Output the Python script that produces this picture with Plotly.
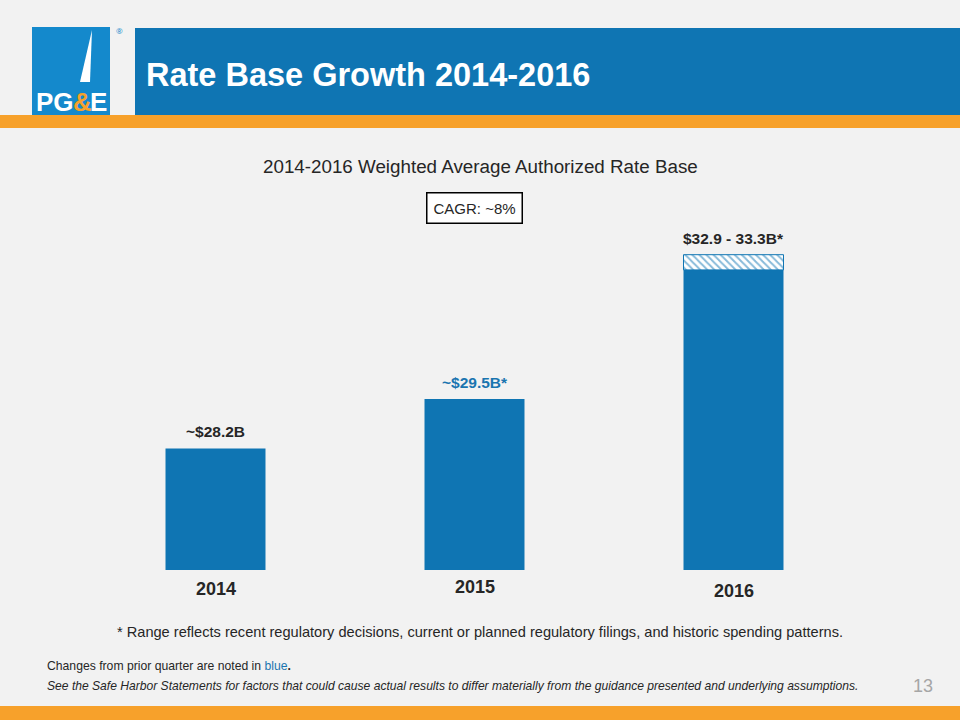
import plotly.graph_objects as go

years = ['2014', '2015', '2016']
rate_base = [28.2, 29.5, 32.9]
range_low = 32.9
range_high = 33.3
value_labels = ['~$28.2B', '~$29.5B*', '$32.9 - 33.3B*']
label_colors = ['#262626', '#1a75b0', '#262626']

BLUE = '#0f75b3'
ORANGE = '#f7a12b'
BG = '#f2f2f2'

def py(px):
    return 1 - px / 720

xs = [0, 1, 2]
fig = go.Figure()

# solid bars
fig.add_trace(go.Bar(x=xs, y=rate_base, width=0.386, marker=dict(color=BLUE, line=dict(width=0)),
                     hoverinfo='skip'))
# hatched range on top of 2016
fig.add_trace(go.Bar(x=[2], y=[range_high - range_low], base=[range_low], width=0.386,
                     marker=dict(color='white', line=dict(color=BLUE, width=1),
                                 pattern=dict(shape='\\', fgcolor=BLUE, bgcolor='white', size=5, solidity=0.4)),
                     hoverinfo='skip'))

tops = [rate_base[0], rate_base[1], range_high]
year_shift = [-7, -5, -9]
for i in range(3):
    fig.add_annotation(x=xs[i], y=tops[i], xref='x', yref='y', text='<b>%s</b>' % value_labels[i],
                       showarrow=False, yanchor='bottom', yshift=6,
                       font=dict(size=15.5, color=label_colors[i], family='Liberation Sans'))
    fig.add_annotation(x=xs[i], y=25, xref='x', yref='y', text='<b>%s</b>' % years[i],
                       showarrow=False, yanchor='top', yshift=year_shift[i],
                       font=dict(size=18, color='#262626', family='Liberation Sans'))

shapes = [
    # logo
    dict(type='rect', xref='paper', yref='paper', x0=32/960, x1=110/960, y0=py(115), y1=py(27),
         fillcolor='#1489cc', line=dict(width=0), layer='below'),
    dict(type='path', xref='paper', yref='paper',
         path='M %f %f L %f %f L %f %f Z' % (92/960, py(30), 80/960, py(82), 90/960, py(82)),
         fillcolor='white', line=dict(width=0)),
    # header band
    dict(type='rect', xref='paper', yref='paper', x0=135/960, x1=1, y0=py(115), y1=py(28),
         fillcolor=BLUE, line=dict(width=0), layer='below'),
    # orange stripes
    dict(type='rect', xref='paper', yref='paper', x0=0, x1=1, y0=py(128), y1=py(115),
         fillcolor=ORANGE, line=dict(width=0)),
    dict(type='rect', xref='paper', yref='paper', x0=0, x1=1, y0=0, y1=py(706),
         fillcolor=ORANGE, line=dict(width=0)),
]

txt = dict(xref='paper', yref='paper', showarrow=False)
logo_font = dict(size=26, color='white', family='Liberation Sans Narrow, Liberation Sans')
ann = [
    dict(x=144/960, y=py(75), text='<b>Rate Base Growth 2014-2016</b>', xanchor='left', yanchor='middle',
         font=dict(size=32.5, color='white', family='Liberation Sans')),
    dict(x=34/960, y=py(115), text='<b>PG</b>', xanchor='left', yanchor='bottom', yshift=-4, font=logo_font),
    dict(x=71/960, y=py(115), text='<b>&amp;</b>', xanchor='left', yanchor='bottom', yshift=-4,
         font=dict(logo_font, color=ORANGE)),
    dict(x=88/960, y=py(115), text='<b>E</b>', xanchor='left', yanchor='bottom', yshift=-4, font=logo_font),
    dict(x=114/960, y=py(31), text='®', yanchor='middle', font=dict(size=8, color='#1489cc')),
    dict(x=480/960, y=py(166), text='2014-2016 Weighted Average Authorized Rate Base', yanchor='middle',
         font=dict(size=18.8, color='#262626', family='Liberation Sans')),
    dict(x=474/960, y=py(208), text='CAGR: ~8%', bordercolor='#000000', borderwidth=1.5, yanchor='middle',
         borderpad=6, bgcolor='white', font=dict(size=15, color='#262626', family='Liberation Sans')),
    dict(x=480/960, y=py(632), text='* Range reflects recent regulatory decisions, current or planned regulatory filings, and historic spending patterns.',
         yanchor='middle', font=dict(size=14.6, color='#262626', family='Liberation Sans')),
    dict(x=45/960, y=py(666), xanchor='left', yanchor='middle',
         text='Changes from prior quarter are noted in <span style="color:#1a75b0">blue</span><b>.</b>',
         font=dict(size=12.2, color='#262626', family='Liberation Sans')),
    dict(x=45/960, y=py(686), xanchor='left', yanchor='middle',
         text='<i>See the Safe Harbor Statements for factors that could cause actual results to differ materially from the guidance presented and underlying assumptions.</i>',
         font=dict(size=12.1, color='#262626', family='Liberation Sans')),
    dict(x=935/960, y=py(686), xanchor='right', yanchor='middle', text='13',
         font=dict(size=18, color='#a6a6a6', family='Liberation Sans')),
]
ann = [dict(a, **txt) for a in ann]
for a in ann:
    fig.add_annotation(**a)

fig.update_layout(
    width=960, height=720, margin=dict(l=0, r=0, t=0, b=0),
    paper_bgcolor=BG, plot_bgcolor=BG, showlegend=False, barmode='overlay',
    shapes=shapes,
    xaxis=dict(domain=[86/960, 863/960], range=[-0.5, 2.5], visible=False),
    yaxis=dict(domain=[py(570), py(200)], range=[25, 34.74], visible=False),
)

fig.write_html("out.html", config={'displayModeBar': False},
               post_script="document.body.style.margin='0';")
